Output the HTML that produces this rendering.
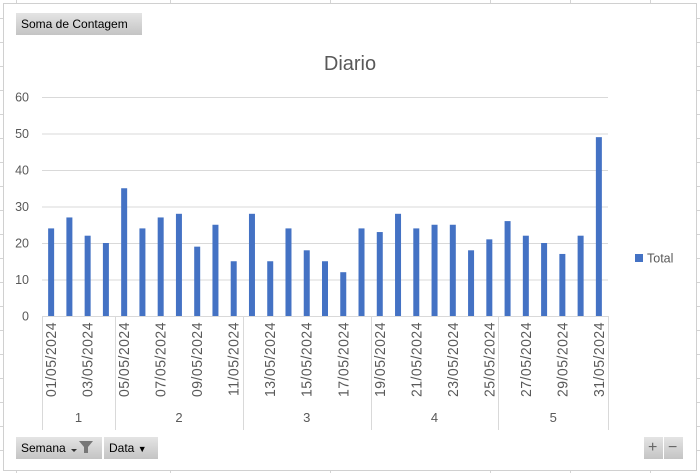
<!DOCTYPE html>
<html><head><meta charset="utf-8"><style>
body{margin:0;width:700px;height:473px;overflow:hidden;background:#fff;font-family:"Liberation Sans",sans-serif}
.btn{position:absolute;background:linear-gradient(#e4e4e4,#c4c4c4);font-size:12px;color:#000;line-height:22px;padding:0 5px;box-sizing:border-box;height:22px}
</style></head><body>
<svg width="700" height="473" style="position:absolute;left:0;top:0">
<g id="sheet" stroke="#d4d4d4" stroke-width="1"></g>
<rect x="3.5" y="3.5" width="693" height="467" fill="#fff" stroke="#d0d0d0"/>
<text x="350" y="70" font-size="20" fill="#595959" text-anchor="middle">Diario</text>
<g id="grid"></g><g id="bars"></g><g id="xaxis"></g>
<rect x="635" y="254" width="8" height="8" fill="#4472c4"/>
<text x="647" y="262.5" font-size="12.5" fill="#595959">Total</text>
</svg>
<div class="btn" style="left:16px;top:13px;width:126px">Soma de Contagem</div>
<div class="btn" style="left:16px;top:437px;width:86px">Semana <svg width="26" height="14" style="vertical-align:-2px"><path d="M2 9 L8 9 L5 12 Z" fill="#333"/><path d="M10 1 L24 1 L19 7 L19 13 L15 13 L15 7 Z" fill="#777"/></svg></div>
<div class="btn" style="left:104px;top:437px;width:54px">Data <span style="font-size:9px">▼</span></div>
<div class="btn" style="left:644px;top:437px;width:19px;font-size:16px;color:#666;padding:0 4px">+</div>
<div class="btn" style="left:664px;top:437px;width:19px;font-size:16px;color:#666;padding:0 4px">−</div>
<script>
const values=[24,27,22,20,35,24,27,28,19,25,15,28,15,24,18,15,12,24,23,28,24,25,25,18,21,26,22,20,17,22,49];
const days=values.map((v,i)=>String(i+1).padStart(2,'0')+'/05/2024');
const weeks=['1','2','3','4','5'];
const weekSizes=[4,7,7,7,6];
const yTicks=[0,10,20,30,40,50,60];
const NS='http://www.w3.org/2000/svg';
const x0=42,x1=608,y0=316,y1=97,ymax=60;
const band=(x1-x0)/values.length;
const y=v=>y0-(v/ymax)*(y0-y1);
const xc=i=>x0+band*(i+0.5);
function mk(t,a,p){const e=document.createElementNS(NS,t);for(const k in a)e.setAttribute(k,a[k]);p.appendChild(e);return e;}
const sh=document.getElementById('sheet');
for(let yy=18;yy<473;yy+=24)mk('line',{x1:0,x2:700,y1:yy+.5,y2:yy+.5},sh);
[16,170,330,490,570,650].forEach(xx=>mk('line',{x1:xx+.5,x2:xx+.5,y1:0,y2:473},sh));
const g=document.getElementById('grid');
yTicks.forEach(t=>{
 const l=mk('line',{x1:x0,x2:x1,y1:y(t)+.5,y2:y(t)+.5,stroke:'#d9d9d9'},g);
 
 
 const tx=mk('text',{x:29,y:y(t)+4.5,'font-size':12.5,fill:'#595959','text-anchor':'end'},g);
 tx.textContent=t;
 
 
});
const b=document.getElementById('bars');
values.forEach((v,i)=>{
 const r=mk('rect',{x:xc(i)-3,y:y(v),width:6,height:y0-y(v),fill:'#4472c4'},b);
 
 
});
const xa=document.getElementById('xaxis');
let acc=0;const bounds=[0];weekSizes.forEach(s=>{acc+=s;bounds.push(acc);});
bounds.forEach(k=>{const xx=Math.round(x0+band*k)+.5;mk('line',{x1:xx,x2:xx,y1:y0,y2:430,stroke:'#d9d9d9'},xa);});
weeks.forEach((w,j)=>{
 const xm=x0+band*(bounds[j]+bounds[j+1])/2;
 const t=mk('text',{x:xm,y:422,'font-size':13,fill:'#595959','text-anchor':'middle'},xa);
 t.textContent=w;
 
 
});
days.forEach((d,i)=>{
 if(i%2)return;
 const t=mk('text',{transform:`translate(${xc(i)+5},322) rotate(-90) scale(1,1.08)`,'font-size':14,'letter-spacing':'0.5',fill:'#595959','text-anchor':'end'},xa);
 t.textContent=d;
 
 
});
</script>
</body></html>
